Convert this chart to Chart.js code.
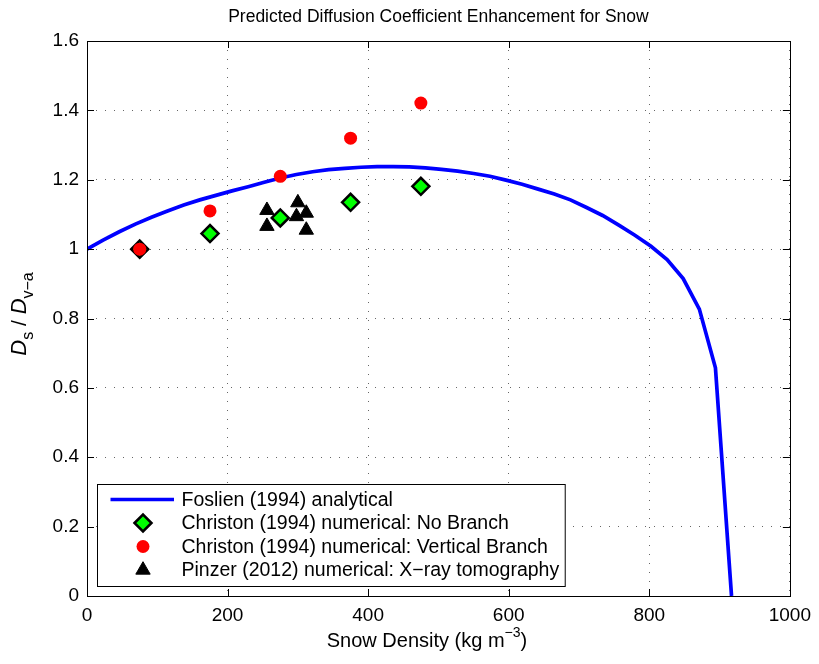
<!DOCTYPE html>
<html>
<head>
<meta charset="utf-8">
<script src="https://cdn.jsdelivr.net/npm/chart.js@4.4.0/dist/chart.umd.min.js"></script>
<style>
  html, body { margin: 0; padding: 0; background: #fff; }
  canvas { display: block; }
</style>
</head>
<body>
<canvas id="snowChart" width="819" height="664"></canvas>
<script>
// --- Data ---
const foslienDensity = [0, 22.9, 45.9, 68.8, 91.7, 114.6, 137.6, 160.5, 183.4, 206.3, 229.3,
  252.2, 275.1, 298.0, 321.0, 343.9, 366.8, 389.8, 412.7, 435.6, 458.5, 481.5, 504.4, 527.3,
  550.2, 573.2, 596.1, 619.0, 641.9, 664.9, 687.8, 710.7, 733.6, 756.6, 779.5, 802.4, 825.3,
  848.2, 871.2, 894.1, 917.0];
const foslienRatio = [1.000, 1.026, 1.050, 1.072, 1.092, 1.110, 1.127, 1.142, 1.155, 1.168, 1.180,
  1.193, 1.205, 1.215, 1.223, 1.229, 1.233, 1.236, 1.238, 1.238, 1.237, 1.234, 1.230, 1.225,
  1.218, 1.210, 1.199, 1.187, 1.173, 1.159, 1.142, 1.120, 1.097, 1.069, 1.040, 1.008, 0.970,
  0.915, 0.827, 0.658, 0.000];

const christonDensity = [75, 175, 275, 375, 475];
const noBranchRatio = [1.000, 1.045, 1.090, 1.135, 1.181];
const verticalBranchRatio = [1.000, 1.110, 1.210, 1.320, 1.421];

const pinzerDensity = [256, 256, 300, 298, 312, 312];
const pinzerRatio = [1.112, 1.066, 1.134, 1.094, 1.104, 1.055];

const xTicks = [0, 200, 400, 600, 800, 1000];
const yTicks = [0, 0.2, 0.4, 0.6, 0.8, 1, 1.2, 1.4, 1.6];

const seriesLabels = [
  'Foslien (1994) analytical',
  'Christon (1994) numerical: No Branch',
  'Christon (1994) numerical: Vertical Branch',
  'Pinzer (2012) numerical: X\u2212ray tomography'
];

const FONT = '"Liberation Sans", Arial, Helvetica, sans-serif';

const toPoints = (xs, ys) => xs.map((x, i) => ({ x: x, y: ys[i] }));

// --- Frame, inward ticks, axis titles and legend (MATLAB look) ---
const matlabFrame = {
  id: 'matlabFrame',
  afterDraw(chart) {
    const { ctx, chartArea: a, scales } = chart;
    ctx.save();

    // box
    ctx.strokeStyle = '#000';
    ctx.lineWidth = 1;
    ctx.setLineDash([]);
    ctx.strokeRect(Math.round(a.left) + 0.5, Math.round(a.top) + 0.5,
      Math.round(a.right - a.left), Math.round(a.bottom - a.top));

    // inward ticks
    const tl = 7;
    ctx.beginPath();
    xTicks.forEach(v => {
      const px = Math.round(scales.x.getPixelForValue(v)) + 0.5;
      ctx.moveTo(px, a.bottom); ctx.lineTo(px, a.bottom - tl);
      ctx.moveTo(px, a.top); ctx.lineTo(px, a.top + tl);
    });
    yTicks.forEach(v => {
      const py = Math.round(scales.y.getPixelForValue(v)) + 0.5;
      ctx.moveTo(a.left, py); ctx.lineTo(a.left + tl, py);
      ctx.moveTo(a.right, py); ctx.lineTo(a.right - tl, py);
    });
    ctx.stroke();

    // x axis title with superscript
    ctx.fillStyle = '#000';
    ctx.textBaseline = 'alphabetic';
    ctx.textAlign = 'left';
    const mainFont = '20px ' + FONT;
    const supFont = '14px ' + FONT;
    const p1 = 'Snow Density (kg m', p2 = '\u22123', p3 = ')';
    ctx.font = mainFont; const w1 = ctx.measureText(p1).width, w3 = ctx.measureText(p3).width;
    ctx.font = supFont; const w2 = ctx.measureText(p2).width;
    let xs = 427 - (w1 + w2 + w3) / 2;
    const base = 647;
    ctx.font = mainFont; ctx.fillText(p1, xs, base); xs += w1;
    ctx.font = supFont; ctx.fillText(p2, xs, base - 10); xs += w2;
    ctx.font = mainFont; ctx.fillText(p3, xs, base);

    // y axis title: D_s / D_v-a
    ctx.save();
    ctx.translate(26, 314);
    ctx.rotate(-Math.PI / 2);
    const parts = [
      { t: 'D', f: 'italic 22px ' + FONT, dy: 0 },
      { t: 's', f: '16px ' + FONT, dy: 7 },
      { t: ' / ', f: '21px ' + FONT, dy: 0 },
      { t: 'D', f: 'italic 22px ' + FONT, dy: 0 },
      { t: 'v\u2212a', f: '16px ' + FONT, dy: 7 }
    ];
    let total = 0;
    parts.forEach(p => { ctx.font = p.f; p.w = ctx.measureText(p.t).width; total += p.w; });
    let u = -total / 2;
    parts.forEach(p => { ctx.font = p.f; ctx.fillText(p.t, u, p.dy); u += p.w; });
    ctx.restore();

    // legend
    const ds = chart.data.datasets;
    const lx = 97.5, ly = 484.5;
    const rows = [499.5, 523, 546.5, 570];
    const textX = 181.5;
    ctx.font = '19.5px ' + FONT;
    let maxW = 0;
    ds.forEach(d => { maxW = Math.max(maxW, ctx.measureText(d.label).width); });
    const lw = Math.max(563 - lx, textX + maxW + 6 - lx);
    ctx.fillStyle = '#fff';
    ctx.fillRect(lx, ly, lw, 102);
    ctx.strokeStyle = '#000';
    ctx.lineWidth = 1;
    ctx.strokeRect(lx, ly, lw, 102);

    ds.forEach((d, i) => {
      const y = rows[i];
      if (d.showLine) {
        ctx.strokeStyle = d.borderColor;
        ctx.lineWidth = d.borderWidth;
        ctx.beginPath(); ctx.moveTo(110.5, y); ctx.lineTo(174, y); ctx.stroke();
      } else {
        ctx.fillStyle = d.backgroundColor;
        ctx.strokeStyle = d.borderColor;
        ctx.lineWidth = d.borderWidth;
        Chart.helpers.drawPoint(ctx, {
          pointStyle: d.pointStyle, radius: d.pointRadius, rotation: 0,
          borderWidth: d.borderWidth
        }, 143, y);
      }
      ctx.fillStyle = '#000';
      ctx.textBaseline = 'middle';
      ctx.font = '19.5px ' + FONT;
      ctx.fillText(d.label, textX, y + 1);
    });

    ctx.restore();
  }
};

const ctx = document.getElementById('snowChart').getContext('2d');

new Chart(ctx, {
  type: 'scatter',
  data: {
    datasets: [
      {
        label: seriesLabels[0],
        data: toPoints(foslienDensity, foslienRatio),
        showLine: true,
        borderColor: '#0000ff',
        backgroundColor: '#0000ff',
        borderWidth: 3.7,
        pointRadius: 0,
        tension: 0,
        order: 4
      },
      {
        label: seriesLabels[1],
        data: toPoints(christonDensity, noBranchRatio),
        pointStyle: 'rectRot',
        pointRadius: 8.5,
        backgroundColor: '#00ff00',
        borderColor: '#000000',
        borderWidth: 2.5,
        order: 3
      },
      {
        label: seriesLabels[2],
        data: toPoints(christonDensity, verticalBranchRatio),
        pointStyle: 'circle',
        pointRadius: 6.5,
        backgroundColor: '#ff0000',
        borderColor: '#ff0000',
        borderWidth: 0,
        order: 2
      },
      {
        label: seriesLabels[3],
        data: toPoints(pinzerDensity, pinzerRatio),
        pointStyle: 'triangle',
        pointRadius: 8.3,
        backgroundColor: '#000000',
        borderColor: '#000000',
        borderWidth: 1,
        order: 1
      }
    ]
  },
  options: {
    responsive: false,
    animation: false,
    layout: { padding: { left: 0, top: 0, right: 26, bottom: 0 } },
    plugins: {
      legend: { display: false },
      tooltip: { enabled: false },
      title: {
        display: true,
        fullSize: false,
        text: 'Predicted Diffusion Coefficient Enhancement for Snow',
        color: '#000',
        font: { family: FONT, size: 17.5, weight: 'normal' },
        padding: { top: 7, bottom: 13 }
      }
    },
    scales: {
      x: {
        type: 'linear',
        min: 0,
        max: 1000,
        afterBuildTicks: s => { s.ticks = xTicks.map(v => ({ value: v })); },
        afterFit: s => { s.height = 68; },
        ticks: {
          color: '#000', font: { family: FONT, size: 19 }, padding: 8,
          maxRotation: 0, autoSkip: false, callback: v => String(v)
        },
        grid: { color: 'rgba(0,0,0,0.6)', lineWidth: 1, drawTicks: false },
        border: { display: false, dash: [1, 8] }
      },
      y: {
        type: 'linear',
        min: 0,
        max: 1.6,
        afterBuildTicks: s => { s.ticks = yTicks.map(v => ({ value: v })); },
        afterFit: s => { s.width = 87; },
        ticks: {
          color: '#000', font: { family: FONT, size: 19 }, padding: 8,
          autoSkip: false, callback: v => String(v)
        },
        grid: { color: 'rgba(0,0,0,0.6)', lineWidth: 1, drawTicks: false },
        border: { display: false, dash: [1, 8] }
      }
    }
  },
  plugins: [matlabFrame]
});
</script>
</body>
</html>
